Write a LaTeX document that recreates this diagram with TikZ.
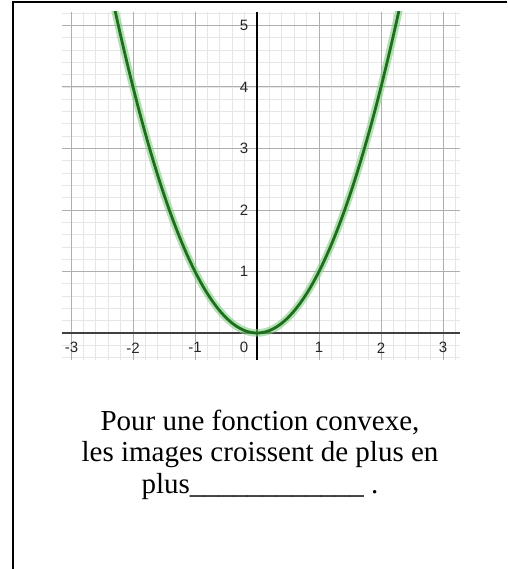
\documentclass[tikz,border=0pt]{standalone}
\usepackage{fontspec}
\setmainfont{Liberation Serif}
\newfontfamily\axisfont{Liberation Sans}
\definecolor{curvedark}{RGB}{30,110,30}
\definecolor{curvelight}{RGB}{130,205,130}
\definecolor{majorgrid}{RGB}{175,175,175}
\definecolor{minorgrid}{RGB}{230,230,230}
\tikzset{
  frameline/.style={line width=2pt, black},
  minorline/.style={minorgrid, line width=0.8pt},
  majorline/.style={majorgrid, line width=1pt},
  xaxisline/.style={black!75, line width=1.4pt},
  yaxisline/.style={black, line width=1.4pt},
  ticklabel/.style={font=\axisfont\fontsize{15}{15}\selectfont, text=black!85, inner sep=0pt},
  curvehalo/.style={curvelight, line width=7.5pt, opacity=0.6},
  curvecore/.style={curvedark, line width=2.8pt},
  captionline/.style={font=\fontsize{29}{31.5}\selectfont, inner sep=0pt, anchor=base}
}
\begin{document}
\begin{tikzpicture}[x=1pt, y=-1pt]
\useasboundingbox (0,0) rectangle (507,569);
% frame (left and top edges only)
\coordinate (fb) at (12.7,569);
\coordinate (fc) at (12.7,2.2);
\coordinate (fr) at (507,2.2);
\draw[frameline] (fb) -- (fc) -- (fr);
% graph
\begin{scope}[shift={(257,333)}, x=62pt, y=61.5pt]
  \foreach \i in {-15,...,16} {\draw[minorline] (\i/5,-0.44) -- (\i/5,5.22);}
  \foreach \j in {-2,...,26} {\draw[minorline] (-3.15,\j/5) -- (3.27,\j/5);}
  \foreach \i in {-3,...,3} {\draw[majorline] (\i,-0.44) -- (\i,5.22);}
  \foreach \j in {1,...,5} {\draw[majorline] (-3.15,\j) -- (3.27,\j);}
  \coordinate (xl) at (-3.15,0);
  \coordinate (xr) at (3.27,0);
  \coordinate (yb) at (0,-0.44);
  \coordinate (yt) at (0,5.22);
  \draw[xaxisline] (xl) -- (xr);
  \draw[yaxisline] (yb) -- (yt);
  \begin{scope}
    \clip (-3.15,-0.44) rectangle (3.27,5.22);
    \draw[curvehalo] plot[domain=-2.3:2.3, samples=120, smooth] (\x,{\x*\x});
    \draw[curvecore] plot[domain=-2.3:2.3, samples=120, smooth] (\x,{\x*\x});
  \end{scope}
  \node[ticklabel] (xm3) at (-2.99,-0.24) {-3};
  \node[ticklabel] (xm2) at (-2.0,-0.24) {-2};
  \node[ticklabel] (xm1) at (-1.0,-0.24) {-1};
  \node[ticklabel] (x0) at (-0.21,-0.24) {0};
  \node[ticklabel] (x1) at (1,-0.24) {1};
  \node[ticklabel] (x2) at (2,-0.24) {2};
  \node[ticklabel] (x3) at (3,-0.24) {3};
  \node[ticklabel] (y1) at (-0.21,1) {1};
  \node[ticklabel] (y2) at (-0.21,2) {2};
  \node[ticklabel] (y3) at (-0.21,3) {3};
  \node[ticklabel] (y4) at (-0.21,4) {4};
  \node[ticklabel] (y5) at (-0.21,5) {5};
\end{scope}
% caption
\node[captionline] (c1) at (260,430) {Pour une fonction convexe,};
\node[captionline] (c2) at (260,461.7) {les images croissent de plus en};
\node[captionline] (c3) at (260,493.3) {plus\_\_\_\_\_\_\_\_\_\_\_\_ .};
\end{tikzpicture}
\end{document}
